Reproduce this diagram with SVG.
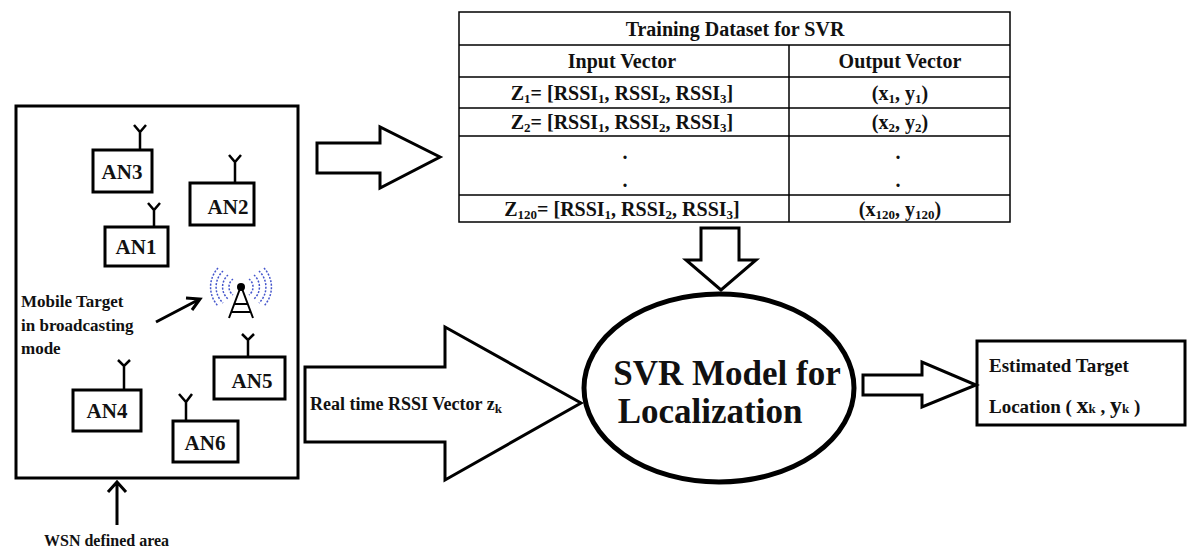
<svg xmlns="http://www.w3.org/2000/svg" width="1200" height="560" viewBox="0 0 1200 560">
<style>
text{font-family:"Liberation Serif","Times New Roman",serif;font-weight:bold;fill:#111}
.b{fill:#fff;stroke:#000;stroke-width:3}
.t{fill:none;stroke:#000;stroke-width:1.5}
.ant{fill:none;stroke:#000;stroke-width:2.5}
.w{fill:none;stroke:#4455cc;stroke-width:1.5;stroke-dasharray:2 1.5}
.an{font-size:21px;text-anchor:middle}
.tb{font-size:20px;text-anchor:middle}
.s{font-size:13px}
</style>
<rect width="1200" height="560" fill="#fff"/>
<g id="area">
<rect x="16" y="106" width="282" height="372" class="b"/>
</g>
<g id="AN3"><path class="ant" d="M140 150V132M134 125L140 132L146 125"/><rect x="93" y="150" width="59" height="42" class="b"/><text x="122" y="179" class="an">AN3</text></g>
<g id="AN2"><path class="ant" d="M235 183V162M229 155L235 162L241 155"/><rect x="190" y="183" width="64" height="42" class="b"/><text x="228" y="214" class="an">AN2</text></g>
<g id="AN1"><path class="ant" d="M154 227V210M148 203L154 210L160 203"/><rect x="105" y="227" width="63" height="39" class="b"/><text x="136" y="254" class="an">AN1</text></g>
<g id="AN5"><path class="ant" d="M248 357V340M242 334L248 340L254 334"/><rect x="214" y="357" width="71" height="42" class="b"/><text x="252" y="388" class="an">AN5</text></g>
<g id="AN4"><path class="ant" d="M124 390V366M118 360L124 366L130 360"/><rect x="73" y="390" width="68" height="41" class="b"/><text x="107" y="418" class="an">AN4</text></g>
<g id="AN6"><path class="ant" d="M186 421V402M179 394L186 402L192 394"/><rect x="173" y="421" width="65" height="41" class="b"/><text x="205" y="450" class="an">AN6</text></g>
<g id="target">
<path d="M241 286L229 318M241 286L253 318M234 304H248M231 312H251" stroke="#000" stroke-width="2" fill="none"/>
<circle cx="241" cy="287" r="4" fill="#000"/>
<path class="w" d="M233 279A10 10 0 0 0 233 295M228 275A16 16 0 0 0 228 299M223 271A22 22 0 0 0 223 303M218 268A28 28 0 0 0 218 306"/>
<path class="w" d="M249 279A10 10 0 0 1 249 295M254 275A16 16 0 0 1 254 299M259 271A22 22 0 0 1 259 303M264 268A28 28 0 0 1 264 306"/>
<text x="21" y="307" font-size="17">Mobile Target</text>
<text x="21" y="331" font-size="17">in broadcasting</text>
<text x="21" y="354" font-size="17">mode</text>
</g>
<g id="wsnlabel"><text x="44" y="546" font-size="16">WSN defined area</text></g>
<g id="table">
<rect x="459" y="12" width="551" height="210" fill="#fff" stroke="#000" stroke-width="1.5"/>
<path class="t" d="M459 45H1010M459 77H1010M459 108H1010M459 136H1010M459 195H1010M789 45V222"/>
<text x="735" y="36" class="tb">Training Dataset for SVR</text>
<text x="622" y="68" class="tb">Input Vector</text>
<text x="900" y="68" class="tb">Output Vector</text>
<text x="622" y="100" class="tb">Z<tspan class="s" dy="3">1</tspan><tspan dy="-3">= [RSSI</tspan><tspan class="s" dy="3">1</tspan><tspan dy="-3">, RSSI</tspan><tspan class="s" dy="3">2</tspan><tspan dy="-3">, RSSI</tspan><tspan class="s" dy="3">3</tspan><tspan dy="-3">]</tspan></text>
<text x="900" y="100" class="tb">(x<tspan class="s" dy="3">1</tspan><tspan dy="-3">, y</tspan><tspan class="s" dy="3">1</tspan><tspan dy="-3">)</tspan></text>
<text x="622" y="129" class="tb">Z<tspan class="s" dy="3">2</tspan><tspan dy="-3">= [RSSI</tspan><tspan class="s" dy="3">1</tspan><tspan dy="-3">, RSSI</tspan><tspan class="s" dy="3">2</tspan><tspan dy="-3">, RSSI</tspan><tspan class="s" dy="3">3</tspan><tspan dy="-3">]</tspan></text>
<text x="900" y="129" class="tb">(x<tspan class="s" dy="3">2</tspan><tspan dy="-3">, y</tspan><tspan class="s" dy="3">2</tspan><tspan dy="-3">)</tspan></text>
<text x="625" y="159" class="tb">.</text>
<text x="898" y="159" class="tb">.</text>
<text x="625" y="187" class="tb">.</text>
<text x="898" y="187" class="tb">.</text>
<text x="622" y="216" class="tb">Z<tspan class="s" dy="3">120</tspan><tspan dy="-3">= [RSSI</tspan><tspan class="s" dy="3">1</tspan><tspan dy="-3">, RSSI</tspan><tspan class="s" dy="3">2</tspan><tspan dy="-3">, RSSI</tspan><tspan class="s" dy="3">3</tspan><tspan dy="-3">]</tspan></text>
<text x="900" y="216" class="tb">(x<tspan class="s" dy="3">120</tspan><tspan dy="-3">, y</tspan><tspan class="s" dy="3">120</tspan><tspan dy="-3">)</tspan></text>
</g>
<g id="svr">
<ellipse cx="719" cy="388" rx="135" ry="94" fill="#fff" stroke="#000" stroke-width="5"/>
<text x="727" y="385" font-size="35" text-anchor="middle">SVR Model for</text>
<text x="710" y="423" font-size="35" text-anchor="middle">Localization</text>
</g>
<g id="output">
<rect x="977" y="341" width="208" height="84" fill="#fff" stroke="#000" stroke-width="3"/>
<text x="989" y="372" font-size="19">Estimated Target</text>
<text x="989" y="413" font-size="19">Location ( <tspan font-size="24">x</tspan><tspan font-size="13">k</tspan> , <tspan font-size="24">y</tspan><tspan font-size="13">k</tspan> )</text>
</g>
<g id="connectors">
<path d="M117 525V482M108 492L117 482L126 492" fill="none" stroke="#000" stroke-width="3"/>
<path d="M156 322L198 300M186 298L200 299L192 310" fill="none" stroke="#000" stroke-width="3"/>
<path class="b" d="M317 143H380V127L440 157L380 188V173H317Z"/>
<path class="b" stroke-width="2.5" d="M305 367H445V327L581 403L445 480V442H305Z"/>
<text x="310" y="410" font-size="18">Real time RSSI Vector z<tspan font-size="13" dy="3">k</tspan></text>
<path class="b" d="M701 228H739V260H756L721 290L686 260H701Z"/>
<path class="b" d="M863 375H922V362L976 385L922 407V395H863Z"/>
</g>
</svg>
